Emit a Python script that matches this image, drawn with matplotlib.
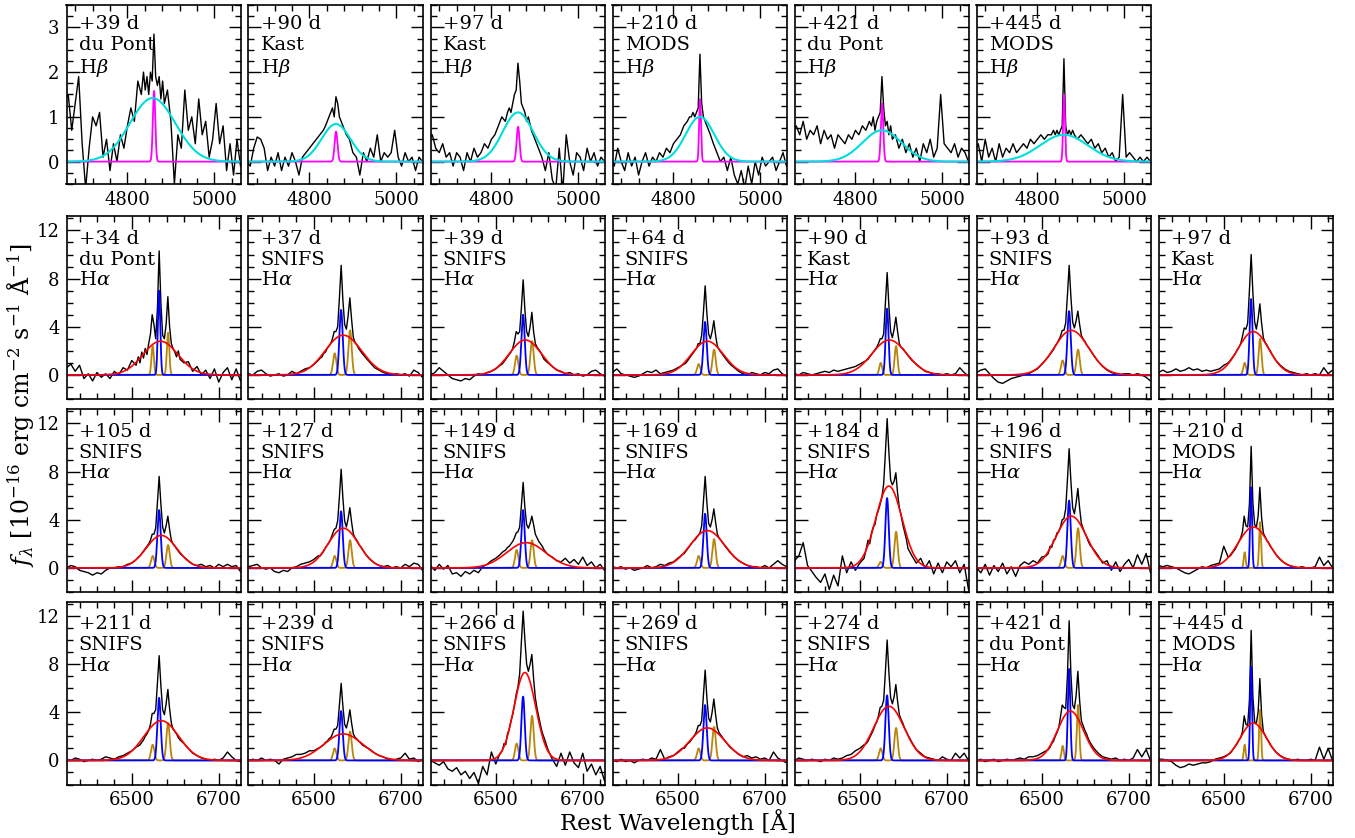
import numpy as np
import matplotlib
matplotlib.use("Agg")
import matplotlib.pyplot as plt
from matplotlib.ticker import MultipleLocator, AutoMinorLocator

plt.rcParams["font.family"] = "DejaVu Serif"
plt.rcParams["mathtext.fontset"] = "dejavuserif"

# wavelength sampling of the plotted spectra (coarse in the wings, finer over the lines)
HB_WAVE = np.concatenate([np.arange(4656, 4833, 8), np.arange(4837, 4886, 4), np.arange(4892, 5069, 8)])
HA_WAVE = np.concatenate([np.arange(6350, 6511, 10), np.arange(6515, 6612, 4), np.arange(6620, 6761, 10)])

# ---- H-beta panels (top row) ----
HB_PHASE = ["+39 d", "+90 d", "+97 d", "+210 d", "+421 d", "+445 d"]
HB_INST = ["du Pont", "Kast", "Kast", "MODS", "du Pont", "MODS"]
HB_BROAD_AMP = [1.42, 0.84, 1.1, 1.0, 0.7, 0.6]
HB_BROAD_CEN = [4858, 4861, 4861, 4861, 4861, 4861]
HB_BROAD_SIG = [52, 33, 35, 33, 45, 55]
HB_NARROW_AMP = [1.58, 0.67, 0.78, 1.4, 1.3, 1.5]

hb_039 = [1.4, 1.5, 0.7, 1.3, 1.9, 0.4, -0.6, 0.3, 1.0, 0.8, 1.1, 0.1, 0.5, -0.2, 0.4, 0.0, 0.6, 0.3, 0.8, 1.2, 0.9, 1.8, 1.5,
          2.0, 1.6, 1.9, 1.5, 2.0, 1.8, 2.85, 1.9, 1.7, 1.9, 1.4, 1.8, 1.3,
          1.6, 0.9, -0.5, 0.6, 0.3, 1.6, 0.7, 1.0, 0.4, 1.4, 0.6, 0.9, 0.1, 0.5, 1.3, 0.4, 0.8, -0.2, 0.4, -0.3, 0.5, -0.1, 0.3]
hb_090 = [0.0, -0.1, 0.3, 0.55, 0.5, 0.3, -0.2, 0.1, -0.1, 0.2, -0.2, 0.1, -0.1, 0.2, 0.0, -0.3, 0.1, 0.2, 0.3, 0.4, 0.5, 0.6, 0.7,
          0.8, 0.9, 1.0, 1.1, 1.2, 1.0, 1.45, 1.3, 1.0, 0.9, 0.8, 0.7, 0.6,
          0.5, 0.2, 0.1, -0.3, 0.2, 0.0, 0.3, 0.1, 0.6, 0.0, 0.2, 0.1, 0.2, 0.7, 0.1, -0.1, 0.2, 0.0, 0.1, -0.2, 0.1, 0.0, 0.0]
hb_097 = [0.5, 0.6, 0.3, 0.2, 0.4, 0.1, 0.2, -0.1, 0.2, 0.1, -0.2, 0.2, 0.0, 0.3, 0.1, 0.2, 0.4, 0.3, 0.5, 0.6, 0.8, 1.0, 0.9,
          1.1, 1.2, 1.1, 1.3, 1.5, 1.6, 2.2, 1.8, 1.3, 1.2, 1.1, 0.9, 1.0,
          0.7, 0.5, 0.3, 0.1, -0.2, 0.2, -0.4, -0.6, 0.3, -0.7, 0.6, 0.0, -0.3, 0.2, 0.1, -0.2, 0.3, 0.0, 0.2, -0.1, 0.1, 0.0, 0.1]
hb_210 = [0.1, -0.1, 0.3, 0.0, -0.2, 0.2, -0.1, 0.1, -0.3, 0.0, 0.2, -0.1, 0.1, 0.0, 0.2, 0.1, 0.3, 0.2, 0.4, 0.5, 0.6, 0.8, 0.9,
          1.0, 1.0, 1.1, 1.0, 1.1, 1.2, 2.4, 1.3, 1.0, 0.9, 0.8, 0.7, 0.6,
          0.4, 0.2, 0.0, 0.1, -0.2, 0.1, -0.3, -0.5, -0.2, -0.6, -0.1, -0.5, 0.0, -0.3, 0.1, -0.1, 0.0, 0.1, -0.2, 0.0, 0.2, -0.1, 0.0]
hb_421 = [0.7, 0.8, 0.6, 0.9, 0.5, 0.7, 0.6, 0.8, 0.4, 0.7, 0.5, 0.6, 0.3, 0.6, 0.5, 0.4, 0.6, 0.5, 0.7, 0.6, 0.8, 0.7, 0.9,
          0.8, 1.0, 0.7, 0.9, 1.0, 1.1, 1.9, 1.2, 0.8, 0.9, 0.6, 0.8, 0.5,
          0.6, 0.3, 0.5, 0.2, 0.4, 0.1, 0.3, 0.0, 0.4, 0.2, 0.5, 0.1, 0.3, 1.5, 0.4, 0.3, 0.2, 0.4, 0.1, 0.3, 0.2, 0.0, 0.1]
hb_445 = [0.2, 0.4, 0.0, 0.5, 0.1, 0.3, 0.0, 0.4, 0.1, 0.3, 0.2, 0.4, 0.2, 0.3, 0.4, 0.3, 0.5, 0.4, 0.5, 0.6, 0.5, 0.6, 0.6,
          0.7, 0.6, 0.7, 0.6, 0.7, 0.8, 2.3, 0.8, 0.6, 0.7, 0.6, 0.7, 0.6,
          0.5, 0.6, 0.5, 0.4, 0.5, 0.3, 0.4, 0.2, 0.3, 0.1, 0.2, 0.0, 0.1, 1.5, 0.1, 0.2, 0.1, 0.0, 0.1, 0.0, 0.1, 0.0, 0.0]
HB_FLUX = [hb_039, hb_090, hb_097, hb_210, hb_421, hb_445]

# ---- H-alpha panels (rows 2-4) ----
HA_PHASE = ["+34 d", "+37 d", "+39 d", "+64 d", "+90 d", "+93 d", "+97 d",
            "+105 d", "+127 d", "+149 d", "+169 d", "+184 d", "+196 d", "+210 d",
            "+211 d", "+239 d", "+266 d", "+269 d", "+274 d", "+421 d", "+445 d"]
HA_INST = ["du Pont", "SNIFS", "SNIFS", "SNIFS", "Kast", "SNIFS", "Kast",
           "SNIFS", "SNIFS", "SNIFS", "SNIFS", "SNIFS", "SNIFS", "MODS",
           "SNIFS", "SNIFS", "SNIFS", "SNIFS", "SNIFS", "du Pont", "MODS"]
HA_BROAD_AMP = [2.8, 3.3, 2.9, 2.8, 2.9, 3.7, 3.6, 2.7, 3.3, 2.1, 3.1, 6.8, 4.3, 3.4, 3.3, 2.2, 7.3, 2.7, 4.5, 4.1, 3.1]
HA_BROAD_CEN = [6566, 6568, 6568, 6568, 6568, 6568, 6568, 6568, 6568, 6570, 6568, 6567, 6568, 6568,
                6568, 6568, 6567, 6568, 6567, 6566, 6568]
HA_BROAD_SIG = [40, 42, 37, 37, 40, 40, 35, 35, 35, 45, 40, 30, 35, 35, 40, 45, 25, 40, 35, 30, 30]
HA_NARROW_AMP = [7.0, 5.4, 5.0, 4.4, 5.5, 5.3, 6.3, 4.8, 4.7, 4.8, 4.5, 5.8, 5.6, 6.7, 5.2, 4.1, 5.3, 4.6, 5.4, 7.6, 7.8]
HA_NII_R = [3.5, 3.7, 2.8, 2.1, 2.4, 2.1, 3.0, 1.9, 2.3, 2.3, 2.4, 3.0, 3.3, 3.8, 3.1, 2.4, 3.7, 2.8, 2.7, 4.6, 4.2]
HA_NII_B = [2.4, 1.8, 1.6, 0.9, 1.0, 1.2, 1.0, 1.0, 1.0, 1.5, 1.0, 0.5, 1.0, 1.3, 1.3, 1.0, 1.4, 1.0, 1.0, 1.2, 1.3]

# narrow-line width (Angstrom) per instrument
INST_SIG = {"du Pont": 2.8, "SNIFS": 3.8, "Kast": 3.3, "MODS": 2.2}

ha_034 = [0.6, 0.9, 0.3, 0.8, -0.3, 0.1, -0.5, 0.2, -0.2, 0.1, -0.3, 0.3, 0.0, 0.6, 0.4, 1.2, 0.8,
          1.5, 1.0, 1.9, 1.4, 2.2, 1.7, 2.6, 3.4, 5.0, 4.2, 3.0, 5.5, 10.3, 6.0, 3.3, 3.0, 4.2, 6.5, 4.0, 2.6, 2.2, 1.9, 1.5, 2.0, 1.3,
          1.0, 1.1, 0.3, 0.7, 0.0, 0.4, -0.3, 0.5, -0.6, 0.2, 0.6, -0.4, 0.5, -0.5, 0.3]
ha_037 = [0.1, 0.0, 0.3, 0.4, 0.1, -0.1, 0.0, 0.1, -0.1, 0.0, 0.3, 0.1, 0.3, 0.5, 0.6, 0.85, 1.2,
          1.4, 1.5, 1.8, 1.9, 2.2, 2.4, 2.6, 3.0, 3.6, 3.6, 4.0, 6.4, 9.1, 6.2, 4.2, 3.8, 4.9, 6.4, 4.6, 3.1, 2.7, 2.5, 2.2, 2.0, 1.8,
          1.4, 1.0, 0.6, 0.4, 0.2, 0.1, 0.0, 0.1, 0.0, 0.1, -0.1, 0.4, 0.2, -0.2, -0.3]
ha_039 = [0.0, 0.2, 0.6, 0.3, 0.0, -0.3, -0.4, -0.5, -0.3, -0.4, -0.1, 0.1, 0.0, 0.2, 0.3, 0.5, 0.8,
          0.9, 1.1, 1.3, 1.5, 1.7, 1.9, 2.2, 2.8, 3.6, 3.4, 3.6, 5.6, 7.9, 5.4, 3.6, 3.2, 4.0, 5.2, 3.6, 2.6, 2.3, 2.1, 1.9, 1.6, 1.3,
          1.0, 0.7, 0.4, 0.3, 0.1, 0.2, 0.0, 0.1, -0.1, 0.0, 0.3, 0.4, 0.1, -0.1, 0.0]
ha_064 = [0.2, 0.5, 0.1, 0.0, -0.1, -0.2, -0.1, 0.1, 0.3, 0.2, 0.4, 0.1, 0.2, 0.3, 0.4, 0.6, 0.8,
          0.9, 1.0, 1.2, 1.4, 1.6, 1.8, 2.0, 2.2, 2.6, 2.6, 3.3, 5.2, 7.4, 5.1, 3.4, 3.0, 3.6, 4.5, 3.3, 2.4, 2.1, 1.9, 1.7, 1.5, 1.3,
          0.9, 0.6, 0.3, 0.1, 0.0, 0.2, 0.1, 0.0, 0.2, 0.1, 0.4, 0.5, 0.1, -0.1, 0.0]
ha_090 = [0.1, 0.0, 0.2, 0.1, 0.0, 0.1, 0.2, 0.3, 0.2, 0.4, 0.3, 0.4, 0.5, 0.6, 0.7, 0.9, 1.1,
          1.2, 1.3, 1.5, 1.7, 1.9, 2.1, 2.3, 2.6, 3.0, 3.0, 3.4, 6.0, 8.5, 5.7, 3.6, 3.1, 3.8, 4.8, 3.6, 2.6, 2.3, 2.2, 2.0, 1.8, 1.6,
          1.2, 0.9, 0.6, 0.3, 0.2, 0.1, 0.1, 0.0, 0.1, 0.0, 0.1, 0.6, 0.2, -0.1, 0.0]
ha_093 = [0.2, 0.4, 0.5, 0.1, -0.3, -0.6, -0.7, -0.5, -0.3, -0.2, -0.1, 0.0, 0.1, 0.3, 0.5, 0.9, 1.3,
          1.5, 1.7, 1.9, 2.1, 2.4, 2.6, 2.9, 3.2, 3.7, 3.7, 4.3, 6.6, 9.1, 6.5, 4.4, 3.9, 4.5, 5.3, 4.2, 3.3, 3.0, 2.8, 2.5, 2.3, 2.1,
          1.6, 1.1, 0.7, 0.4, 0.2, 0.1, 0.0, 0.1, 0.1, 0.0, 0.1, 0.0, -0.2, -0.5, -0.6]
ha_097 = [0.2, 0.4, 0.2, 0.3, 0.5, 0.3, 0.4, 0.6, 0.4, 0.5, 0.3, 0.4, 0.3, 0.4, 0.5, 0.8, 1.0,
          1.2, 1.4, 1.6, 1.8, 2.1, 2.3, 2.6, 3.2, 3.9, 3.8, 4.3, 7.0, 10.0, 6.8, 4.4, 3.8, 4.7, 5.9, 4.3, 3.1, 2.7, 2.5, 2.2, 2.0, 1.7,
          1.2, 0.8, 0.5, 0.3, 0.2, 0.1, 0.0, 0.1, 0.0, 0.1, 0.0, 0.6, 0.1, 0.4, 0.0]
ha_105 = [0.0, 0.2, 0.1, -0.2, -0.3, -0.4, -0.6, -0.4, -0.5, -0.2, 0.0, 0.0, 0.1, 0.1, 0.3, 0.4, 0.7,
          0.9, 1.0, 1.2, 1.4, 1.6, 1.8, 2.0, 2.3, 2.8, 2.8, 3.3, 5.4, 7.6, 5.3, 3.4, 2.9, 3.5, 4.3, 3.2, 2.3, 2.0, 1.8, 1.6, 1.4, 1.2,
          0.9, 0.6, 0.3, 0.2, 0.3, 0.1, 0.2, 0.0, 0.3, 0.1, 0.3, 0.1, 0.2, -0.3, -0.4]
ha_127 = [0.1, 0.2, 0.3, 0.0, -0.1, 0.0, -0.3, -0.4, -0.2, -0.3, 0.0, 0.1, 0.3, 0.4, 0.5, 0.7, 1.0,
          1.0, 1.2, 1.4, 1.7, 1.9, 2.1, 2.4, 2.8, 3.2, 3.3, 3.9, 5.9, 8.2, 5.8, 3.9, 3.4, 4.1, 5.0, 3.8, 2.8, 2.5, 2.3, 2.0, 1.8, 1.6,
          1.1, 0.7, 0.4, 0.2, 0.1, 0.2, 0.0, 0.1, 0.0, 0.3, 0.1, 0.4, 0.3, -0.2, -0.5]
ha_149 = [0.2, -0.2, 0.3, -0.1, 0.2, -0.5, -0.4, -0.7, -0.3, -0.5, -0.2, -0.4, 0.1, 0.3, 0.6, 0.8, 1.1,
          1.3, 1.4, 1.5, 1.7, 1.8, 2.0, 2.2, 2.5, 2.9, 3.0, 3.4, 5.2, 7.1, 5.0, 3.6, 3.3, 3.7, 4.3, 3.6, 2.8, 2.5, 2.2, 2.0, 1.8, 1.5,
          1.1, 0.9, 0.6, 0.5, 0.8, 0.4, 0.7, 0.3, 0.9, 0.2, 0.5, 0.0, 0.3, -0.2, 0.1]
ha_169 = [0.1, 0.0, 0.1, -0.1, 0.0, -0.2, -0.1, 0.0, 0.2, 0.0, 0.1, 0.3, 0.2, 0.4, 0.5, 0.8, 1.1,
          1.2, 1.4, 1.6, 1.8, 2.0, 2.2, 2.3, 2.5, 2.7, 2.9, 3.5, 5.5, 7.6, 5.4, 3.7, 3.4, 4.0, 4.9, 3.8, 2.8, 2.5, 2.3, 2.1, 1.9, 1.7,
          1.3, 0.9, 0.6, 0.4, 0.2, 0.1, 0.1, 0.0, 0.2, 0.0, 0.3, 0.6, 0.3, 0.1, -0.4]
ha_184 = [0.6, 1.0, 2.1, 0.2, -0.3, -0.8, -1.2, -0.5, -1.8, -0.6, -1.5, 1.0, -0.4, 0.5, -0.2, 0.4, 0.8,
          1.6, 2.3, 2.0, 2.9, 3.4, 3.6, 4.4, 4.8, 5.3, 5.9, 7.0, 9.6, 12.4, 9.6, 7.3, 6.9, 7.2, 7.9, 6.2, 5.0, 4.4, 3.6, 3.0, 2.4, 1.6,
          1.0, 0.4, 0.8, 0.0, 0.6, -0.5, 0.4, -0.4, 0.5, 0.1, 0.6, -0.4, 0.3, -1.8, -0.5]
ha_196 = [0.0, -0.4, 0.3, -0.6, 0.2, -0.3, 0.4, -0.5, 0.1, -0.7, 0.2, 0.5, 0.3, 0.6, 0.4, 0.9, 1.0,
          1.2, 1.8, 1.7, 2.3, 2.4, 2.9, 3.0, 3.4, 4.0, 4.1, 4.9, 7.3, 9.9, 7.2, 5.0, 4.5, 5.4, 6.6, 5.0, 3.7, 3.3, 2.9, 2.6, 2.2, 1.9,
          1.5, 1.0, 0.4, 0.6, -0.2, 0.5, -0.3, 0.3, 0.7, 0.0, 1.1, 0.3, 1.2, -0.4, 0.2]
ha_210 = [0.2, 0.1, 0.2, 0.1, 0.0, -0.2, -0.4, -0.5, -0.3, -0.1, 0.1, 0.0, 0.2, 0.3, 0.4, 1.8, 0.9,
          1.0, 1.2, 1.4, 1.6, 1.9, 2.2, 2.5, 3.0, 4.3, 3.5, 3.4, 5.3, 10.1, 5.4, 3.6, 3.4, 4.3, 6.7, 4.2, 2.9, 2.6, 2.3, 2.1, 1.8, 1.6,
          1.1, 0.7, 0.4, 0.2, 0.1, 0.0, 0.1, 0.0, 0.0, 0.1, 0.9, 0.2, 0.6, 0.0, 0.1]
ha_211 = [0.1, 0.0, 0.2, 0.1, -0.1, 0.0, 0.1, 0.0, 0.1, 0.3, 0.2, 0.1, 0.3, 0.4, 0.6, 0.8, 1.1,
          1.2, 1.3, 1.5, 1.7, 2.0, 2.2, 2.5, 3.0, 3.9, 3.9, 4.2, 6.4, 8.7, 6.2, 4.2, 3.8, 4.7, 5.9, 4.3, 3.1, 2.6, 2.4, 2.2, 1.9, 1.7,
          1.4, 1.0, 0.6, 0.4, 0.2, 0.1, 0.0, 0.1, 0.0, 0.2, 0.7, 0.3, 0.0, -0.1, 0.0]
ha_239 = [0.0, 0.1, 0.0, 0.2, 0.0, 0.1, 0.0, -0.3, 0.1, 0.2, 0.3, 0.5, 0.5, 0.6, 0.8, 0.8, 1.0,
          1.1, 1.2, 1.3, 1.5, 1.6, 1.8, 1.9, 2.2, 2.6, 2.6, 2.9, 4.6, 6.4, 4.5, 3.0, 2.7, 3.3, 4.2, 3.1, 2.2, 1.9, 1.8, 1.6, 1.5, 1.3,
          1.1, 0.9, 0.6, 0.4, 0.3, 0.1, 0.0, 0.1, 0.2, 0.6, 0.1, 0.2, -0.1, 0.1, 0.0]
ha_266 = [0.0, -0.2, -0.4, -0.1, -0.7, -0.9, -0.6, -1.2, -0.9, -1.5, -1.0, -1.9, -0.5, -1.2, 0.7, -0.3, 0.6,
          0.8, 1.4, 1.3, 2.2, 2.6, 3.3, 3.8, 4.6, 5.5, 6.1, 7.2, 9.9, 12.4, 10.0, 8.0, 7.4, 8.0, 8.8, 6.8, 5.2, 4.3, 3.6, 2.9, 2.3, 1.9,
          0.9, 0.1, -0.5, 0.6, -0.4, 0.7, -0.2, -0.6, 0.6, -0.9, -0.3, -1.2, -0.5, -1.7, -1.0]
ha_269 = [0.0, -0.1, 0.1, -0.1, 0.0, -0.2, 0.0, 0.1, 0.0, 0.2, 0.1, 0.9, 0.1, 0.3, 0.4, 0.7, 1.0,
          1.0, 1.2, 1.4, 1.5, 1.7, 1.9, 2.1, 2.4, 2.9, 2.9, 3.3, 5.4, 7.5, 5.2, 3.5, 3.2, 4.0, 5.1, 3.8, 2.7, 2.3, 2.1, 1.9, 1.7, 1.5,
          1.1, 0.8, 0.5, 0.3, 0.4, 0.2, 0.3, 0.1, 0.2, 0.0, 0.7, 0.2, 0.0, -0.2, 0.0]
ha_274 = [0.0, 0.2, 0.1, 0.0, 0.1, 0.0, -0.1, 0.1, 0.0, 0.2, 0.1, 0.2, 0.4, 0.5, 0.8, 1.0, 1.3,
          1.4, 1.6, 1.9, 2.2, 2.5, 2.9, 3.2, 3.7, 4.4, 4.5, 5.0, 7.4, 10.0, 7.3, 5.2, 4.7, 5.3, 6.3, 4.9, 3.8, 3.4, 3.1, 2.7, 2.4, 2.1,
          1.5, 0.9, 0.6, 0.3, 0.2, 0.1, 0.0, 0.3, 0.1, 0.0, 0.6, 0.2, 0.6, 0.0, 0.1]
ha_421 = [0.0, 0.1, -0.1, 0.0, 0.1, -0.1, 0.0, 0.1, 0.0, 0.1, 0.2, 0.1, 0.3, 0.3, 0.4, 0.6, 0.8,
          0.9, 1.1, 1.4, 1.6, 2.0, 2.3, 2.7, 3.6, 4.6, 4.4, 4.3, 7.0, 11.6, 7.2, 4.6, 4.3, 5.4, 7.4, 5.0, 3.3, 2.9, 2.5, 2.2, 1.8, 1.5,
          1.0, 0.6, 0.3, 0.2, 0.1, 0.2, 0.0, 0.1, 0.0, 0.2, 0.9, 0.3, 0.9, 0.0, 0.1]
ha_445 = [0.1, 0.1, 0.0, -0.1, -0.4, -0.6, -0.5, -0.3, -0.4, -0.3, -0.2, -0.2, -0.1, 0.1, 0.2, 0.3, 0.5,
          0.6, 0.8, 1.0, 1.2, 1.4, 1.7, 1.9, 2.4, 3.7, 3.0, 2.9, 5.0, 10.8, 5.3, 3.2, 3.1, 4.0, 6.8, 3.8, 2.4, 2.1, 1.8, 1.6, 1.3, 1.1,
          0.7, 0.4, 0.2, 0.1, 0.0, 0.1, 0.0, 0.0, 0.1, 0.0, 1.1, 0.1, 1.0, 0.0, -0.1]
HA_FLUX = [ha_034, ha_037, ha_039, ha_064, ha_090, ha_093, ha_097,
           ha_105, ha_127, ha_149, ha_169, ha_184, ha_196, ha_210,
           ha_211, ha_239, ha_266, ha_269, ha_274, ha_421, ha_445]

for f in HB_FLUX:
    assert len(f) == len(HB_WAVE), len(f)
for f in HA_FLUX:
    assert len(f) == len(HA_WAVE), len(f)


def gauss(x, amp, cen, sig):
    return amp * np.exp(-0.5 * ((x - cen) / sig) ** 2)


W, H = 1355, 838
COL_LEFT = [66.5 + 182 * i for i in range(7)]
PANEL_W = 174
ROWS = [(5, 184), (216, 399), (409, 592), (601.5, 784.5)]

fig = plt.figure(figsize=(W / 100, H / 100), dpi=100)


def make_axes(col, row):
    top, bot = ROWS[row]
    ax = fig.add_axes([COL_LEFT[col] / W, 1 - bot / H, PANEL_W / W, (bot - top) / H])
    for s in ax.spines.values():
        s.set_linewidth(1.2)
    ax.tick_params(which="both", direction="in", top=True, right=True, width=1.0,
                   labelsize=13, pad=5)
    ax.tick_params(which="major", length=9)
    ax.tick_params(which="minor", length=4.5)
    return ax


# top row: H-beta
for i in range(len(HB_PHASE)):
    ax = make_axes(i, 0)
    sig_n = INST_SIG[HB_INST[i]]
    xf = np.linspace(4640, 5080, 2000)
    ax.plot(HB_WAVE, HB_FLUX[i], color="black", lw=1.0)
    ax.plot(xf, gauss(xf, HB_NARROW_AMP[i], 4861.3, sig_n), color="magenta", lw=1.3)
    ax.plot(xf, gauss(xf, HB_BROAD_AMP[i], HB_BROAD_CEN[i], HB_BROAD_SIG[i]), color="#00DDDD", lw=1.5)
    ax.set_xlim(4660, 5060)
    ax.set_ylim(-0.5, 3.5)
    ax.xaxis.set_major_locator(MultipleLocator(200))
    ax.xaxis.set_minor_locator(AutoMinorLocator(5))
    ax.yaxis.set_major_locator(MultipleLocator(1))
    ax.yaxis.set_minor_locator(AutoMinorLocator(4))
    if i > 0:
        ax.set_yticklabels([])
    ax.text(0.07, 0.945, f"{HB_PHASE[i]}\n{HB_INST[i]}\nH$\\beta$", transform=ax.transAxes,
            ha="left", va="top", fontsize=14, linespacing=1.2)

# rows 2-4: H-alpha
for i in range(len(HA_PHASE)):
    row, col = 1 + i // 7, i % 7
    ax = make_axes(col, row)
    sig_n = INST_SIG[HA_INST[i]]
    xf = np.linspace(6330, 6780, 2000)
    ax.plot(HA_WAVE, HA_FLUX[i], color="black", lw=1.0)
    nii = gauss(xf, HA_NII_B[i], 6548.1, sig_n) + gauss(xf, HA_NII_R[i], 6583.5, sig_n)
    ax.plot(xf, nii, color="darkgoldenrod", lw=1.3)
    ax.plot(xf, gauss(xf, HA_NARROW_AMP[i], 6562.8, sig_n), color="blue", lw=1.3)
    ax.plot(xf, gauss(xf, HA_BROAD_AMP[i], HA_BROAD_CEN[i], HA_BROAD_SIG[i]), color="red", lw=1.2)
    ax.set_xlim(6350, 6750)
    ax.set_ylim(-2, 13.2)
    ax.xaxis.set_major_locator(MultipleLocator(200, offset=100))
    ax.xaxis.set_minor_locator(MultipleLocator(40, offset=20))
    ax.yaxis.set_major_locator(MultipleLocator(4))
    ax.yaxis.set_minor_locator(AutoMinorLocator(4))
    if col > 0:
        ax.set_yticklabels([])
    if row < 3:
        ax.set_xticklabels([])
    ax.text(0.07, 0.925, f"{HA_PHASE[i]}\n{HA_INST[i]}\nH$\\alpha$", transform=ax.transAxes,
            ha="left", va="top", fontsize=14, linespacing=1.2)

fig.text(0.5, 0.0195, "Rest Wavelength [Å]", ha="center", va="center", fontsize=16.5)
fig.text(0.016, 0.517, r"$f_\lambda$ [$10^{-16}$ erg cm$^{-2}$ s$^{-1}$ Å$^{-1}$]",
         rotation=90, ha="center", va="center", fontsize=17)

fig.savefig("out.png", dpi=100)
